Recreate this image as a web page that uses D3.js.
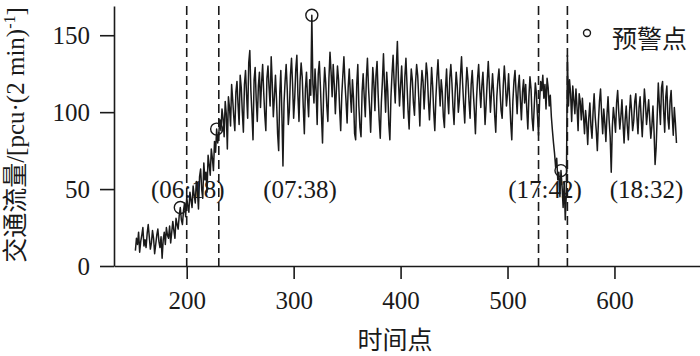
<!DOCTYPE html>
<html><head><meta charset="utf-8">
<script src="https://cdn.jsdelivr.net/npm/d3@7"></script>
<style>
body{margin:0;background:#fff;}
svg{display:block;font-family:"Liberation Serif","Noto Sans CJK SC",serif;}
</style></head>
<body><svg id="c" width="700" height="356"></svg>
<script>
// time points start at 152, one value per point
const startX = 152;
const flow = [
10,18,14,22,9,16,20,25,13,17,12,21,27,19,11,15,23,18,8,14,
20,24,16,12,19,5,17,22,14,25,20,18,26,15,22,29,23,18,31,27,
24,33,38,30,27,36,41,32,45,39,35,48,43,38,52,46,41,55,49,37,
58,63,50,44,67,56,61,48,72,66,59,76,70,62,81,74,89,80,86,95,
88,102,96,84,107,99,76,110,103,91,118,108,97,88,113,120,105,92,124,116,
100,87,118,127,111,96,132,140,114,99,82,121,129,108,94,117,126,103,119,131,
113,98,88,122,130,116,104,136,119,97,110,124,108,86,75,112,127,99,65,106,
120,131,115,92,101,124,135,118,96,109,128,137,111,94,120,132,123,103,86,115,
126,109,97,121,111,163,118,106,128,114,92,125,133,117,98,80,112,129,119,104,
94,122,139,126,110,131,118,99,115,130,121,102,88,111,124,136,119,107,93,116,
128,112,100,121,109,86,82,118,131,104,90,84,113,125,110,97,122,135,116,103,
87,108,129,119,101,124,133,112,95,83,106,120,138,117,100,126,114,92,82,110,
125,137,119,106,129,146,121,104,117,130,112,96,123,135,118,101,89,113,128,121,
106,98,119,131,124,109,91,114,127,120,102,116,132,125,108,95,111,129,117,100,
88,109,123,134,118,104,121,113,97,90,115,128,110,99,122,131,119,103,92,112,
126,117,100,108,124,136,119,105,93,114,129,121,107,96,118,127,113,101,86,108,
122,131,115,103,117,126,110,92,105,120,133,118,100,112,125,113,98,87,110,121,
128,114,101,96,117,130,119,104,112,125,109,93,82,107,120,127,113,99,116,124,
108,95,113,121,106,118,102,89,110,123,115,96,88,104,119,112,98,85,107,120,
114,124,109,118,102,122,116,104,111,97,88,80,73,64,70,56,61,45,62,52,
38,55,30,47,137,104,121,112,94,117,108,99,115,103,88,112,107,95,109,98,
86,101,93,79,96,106,91,83,100,112,97,88,75,94,107,115,99,86,102,93,
81,98,110,95,84,61,90,103,96,87,106,114,100,89,97,108,93,80,95,104,
91,82,99,111,101,88,94,107,112,97,86,103,110,96,84,99,115,106,92,100,
108,95,83,91,104,88,66,77,98,119,105,92,116,120,101,87,110,117,96,89,
107,114,98,85,103,93,80
];
const warnX = [194, 228, 317, 550];
const dashX = [200, 230, 529, 556];
const labelText = ["(06:18)", "(07:38)", "(17:42)", "(18:32)"];
const labelX = [201, 306, 535, 630];
const labelY = 44;
const xTicks = [200, 300, 400, 500, 600];
const yTicks = [0, 50, 100, 150];
const xTitle = "时间点";
const yTitle = "交通流量/[pcu·(2 min)";
const legendText = "预警点";

const data = flow.map((v, i) => ({x: startX + i, y: v}));
const svg = d3.select("#c");
const x = d3.scaleLinear().domain([132, 680]).range([114, 700]);
const y = d3.scaleLinear().domain([0, 169]).range([266, 6]);
const fs = 25;

// axes
const gx = svg.append("g").attr("transform", "translate(0,266)")
  .call(d3.axisBottom(x).tickValues(xTicks).tickSize(13).tickSizeOuter(0).tickPadding(12));
const gy = svg.append("g").attr("transform", "translate(114,0)")
  .call(d3.axisLeft(y).tickValues(yTicks).tickSize(14).tickSizeOuter(0).tickPadding(10));
[gx, gy].forEach(g => {
  g.selectAll("path,line").attr("stroke", "#1a1a1a").attr("stroke-width", 1.6);
  g.selectAll("text").attr("font-size", fs).attr("fill", "#1a1a1a")
    .attr("font-family", "Liberation Serif, serif");
});

// dashed lines
svg.append("g").selectAll("line").data(dashX).join("line")
  .attr("x1", d => x(d)).attr("x2", d => x(d))
  .attr("y1", y(169)).attr("y2", y(0))
  .attr("stroke", "#1a1a1a").attr("stroke-width", 1.6).attr("stroke-dasharray", "9,5");

// series
svg.append("path").datum(data)
  .attr("fill", "none").attr("stroke", "#1a1a1a").attr("stroke-width", 1.5)
  .attr("stroke-linejoin", "round")
  .attr("d", d3.line().x(d => x(d.x)).y(d => y(d.y)));

// warning points
svg.append("g").selectAll("circle").data(warnX).join("circle")
  .attr("cx", d => x(d)).attr("cy", d => y(flow[d - startX]))
  .attr("r", 6).attr("fill", "none").attr("stroke", "#1a1a1a").attr("stroke-width", 1.4);

// time labels
svg.append("g").selectAll("text").data(labelText).join("text")
  .attr("x", (d, i) => x(labelX[i])).attr("y", y(labelY))
  .attr("text-anchor", "middle").attr("font-size", fs).attr("fill", "#1a1a1a")
  .text(d => d);

// legend
svg.append("circle").attr("cx", 587).attr("cy", 33).attr("r", 3.5)
  .attr("fill", "none").attr("stroke", "#1a1a1a").attr("stroke-width", 1.4);
svg.append("text").attr("x", 612).attr("y", 48).attr("font-size", fs)
  .attr("font-family", "Noto Sans CJK SC").attr("fill", "#1a1a1a").text(legendText);

// axis titles
svg.append("text").attr("x", 395).attr("y", 349).attr("text-anchor", "middle")
  .attr("font-size", fs).attr("font-family", "Noto Sans CJK SC").attr("fill", "#1a1a1a").text(xTitle);
const yt = svg.append("text").attr("transform", "translate(24,135) rotate(-90)")
  .attr("text-anchor", "middle").attr("font-size", fs).attr("fill", "#1a1a1a");
yt.append("tspan").text(yTitle);
yt.append("tspan").attr("dy", -9).attr("font-size", 16).text("-1");
yt.append("tspan").attr("dy", 9).text("]");
</script></body></html>
